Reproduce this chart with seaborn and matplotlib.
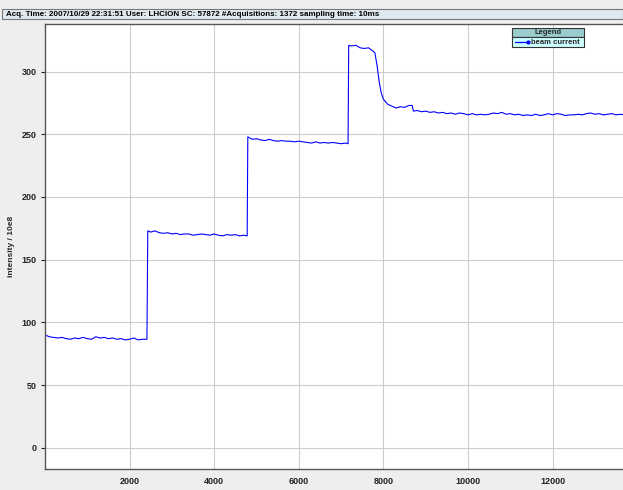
import numpy as np
import pandas as pd
import matplotlib
matplotlib.use("Agg")
import matplotlib.pyplot as plt
from matplotlib.patches import Rectangle
from matplotlib.lines import Line2D
import seaborn as sns

# tempo de aquisicao (ms) e intensidade
tempo_ms = [
    0, 100, 200, 300, 400, 500, 600, 700, 800, 900, 1000, 1100, 1200, 1300,
    1400, 1500, 1600, 1700, 1800, 1900, 2000, 2100, 2200, 2300, 2410,
    2430, 2500, 2600, 2700, 2800, 2900, 3000, 3100, 3200, 3300, 3400, 3500,
    3600, 3700, 3800, 3900, 4000, 4100, 4200, 4300, 4400, 4500, 4600, 4700, 4780,
    4795, 4900, 5000, 5100, 5200, 5300, 5400, 5500, 5600, 5700, 5800, 5900,
    6000, 6100, 6200, 6300, 6400, 6500, 6600, 6700, 6800, 6900, 7000, 7100, 7165,
    7180, 7250, 7350, 7450, 7550, 7650, 7750, 7800, 7850, 7900, 7950, 8000,
    8050, 8100, 8200, 8300, 8400, 8500, 8600, 8680, 8710, 8800, 8900, 9000,
    9100, 9200, 9300, 9400, 9500, 9600, 9700, 9800, 9900, 10000, 10100, 10200,
    10300, 10400, 10500, 10600, 10700, 10800, 10900, 11000, 11100, 11200, 11300,
    11400, 11500, 11600, 11700, 11800, 11900, 12000, 12100, 12200, 12300, 12400,
    12500, 12600, 12700, 12800, 12900, 13000, 13100, 13200, 13300, 13400, 13500,
    13600, 13710,
]
intensidade = [
    90, 88.5, 88, 87.5, 88, 87, 86.5, 87.5, 87, 88, 87, 86.5, 88.5, 87.5,
    88, 87, 87.5, 86.5, 87, 86, 86.5, 87.5, 86, 86.5, 86.5,
    173, 172, 173, 171.5, 171, 171.5, 170.5, 171, 170, 170.5, 170.5, 169.5,
    170, 170.5, 170, 169.5, 170.5, 169.5, 169, 170, 169.5, 170, 169, 169.5, 169,
    248, 246, 246.5, 245.5, 245, 246, 245, 244.5, 245, 244.5, 244.5, 244,
    244.5, 244, 243.5, 243, 244, 243, 243.5, 243, 243.5, 243, 242.5, 243, 242.5,
    321, 320.5, 321, 319, 318.5, 319, 316.5, 315, 305, 292, 283, 278,
    276, 274, 272.5, 271, 272, 271.5, 273, 273, 268.5, 269, 268, 268.5,
    267.5, 268, 267, 267.5, 266.5, 267, 266, 267, 266.5, 265.5, 266.5, 265.5,
    266, 265.5, 266, 267, 266.5, 267.5, 266, 266.5, 265.5, 266, 265,
    265.5, 265, 266, 265, 265.5, 266.5, 265.5, 266.5, 266, 265, 265.5,
    265.5, 266, 265.5, 266.5, 267, 266, 266.5, 265.5, 266, 266.5, 265.5,
    266, 265.5,
]
y_ticks = [0, 50, 100, 150, 200, 250, 300]
x_ticks = [2000, 4000, 6000, 8000, 10000, 12000]
titulo = "Acq. Time: 2007/10/29 22:31:51 User: LHCION SC: 57872 #Acquisitions: 1372 sampling time: 10ms"

df = pd.DataFrame({"tempo": tempo_ms, "intensidade": intensidade})

sns.set_style("whitegrid")
plt.rcParams["font.family"] = ["Liberation Sans", "DejaVu Sans"]
plt.rcParams["font.weight"] = "bold"

W, H = 623, 490
fig = plt.figure(figsize=(W / 100, H / 100), dpi=100, facecolor="#eeeeee")
ax = fig.add_axes([45 / W, 1 - 469 / H, (W - 45) / W, (469 - 24) / H])
ax.set_facecolor("white")

sns.lineplot(data=df, x="tempo", y="intensidade", ax=ax, color="#0000ff",
             lw=0.8, estimator=None, sort=False)

ax.set_xlim(0, 13665)
ax.set_ylim(-17, 338)
ax.set_xticks(x_ticks)
ax.set_yticks(y_ticks)
ax.grid(True, color="#cccccc", lw=0.8)
ax.tick_params(axis="both", labelsize=6.5, colors="#222222", length=3,
               width=0.8, direction="out", left=True, bottom=False, pad=3)
for lab in ax.get_xticklabels() + ax.get_yticklabels():
    lab.set_fontweight("bold")
ax.set_xlabel("")
ax.set_ylabel("intensity / 10e8", fontsize=6, fontweight="bold")
ax.yaxis.set_label_coords(-30 / 578, 0.5)
for s in ["left", "bottom", "top"]:
    ax.spines[s].set_color("#555555")
    ax.spines[s].set_linewidth(1.0)
ax.spines["right"].set_visible(False)

# barra de titulo
fig.patches.append(Rectangle((2 / W, 1 - 19 / H), (W - 2) / W, 10 / H,
                             transform=fig.transFigure, facecolor="#dfe9ef",
                             edgecolor="#777777", lw=0.8))
fig.text(6 / W, 1 - 14 / H, titulo, fontsize=5.8, fontweight="bold",
         va="center", ha="left", color="black")

# legenda
fig.patches.append(Rectangle((512 / W, 1 - 37 / H), 72 / W, 9 / H,
                             transform=fig.transFigure, facecolor="#99cccc",
                             edgecolor="#333333", lw=0.8))
fig.patches.append(Rectangle((512 / W, 1 - 47 / H), 72 / W, 10 / H,
                             transform=fig.transFigure, facecolor="#ccffff",
                             edgecolor="#333333", lw=0.8))
fig.text(548 / W, 1 - 32.5 / H, "Legend", fontsize=5.5, fontweight="bold",
         ha="center", va="center")
fig.lines.append(Line2D([515 / W, 528 / W], [1 - 42 / H, 1 - 42 / H],
                        transform=fig.transFigure, color="#0000ff", lw=0.9,
                        marker="o", markersize=2, markevery=[1]))
fig.text(531 / W, 1 - 42 / H, "beam current", fontsize=5.5, fontweight="bold",
         ha="left", va="center")

plt.savefig("out.png", dpi=100, facecolor=fig.get_facecolor())
